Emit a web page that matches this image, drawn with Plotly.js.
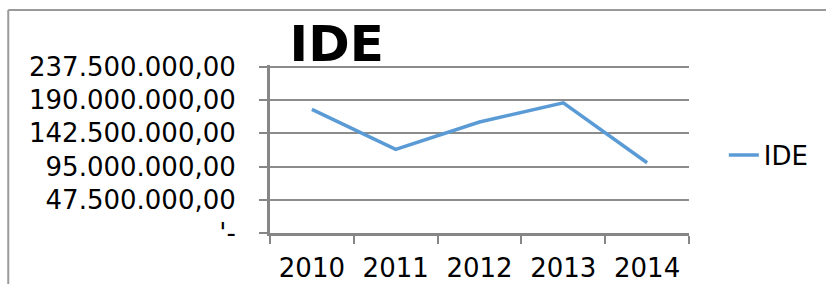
<!DOCTYPE html>
<html>
<head>
<meta charset="utf-8">
<script src="https://cdn.plot.ly/plotly-3.0.1.min.js"></script>
<style>html,body{margin:0;padding:0;background:#fff;}#chart{width:826px;height:284px;}</style>
</head>
<body>
<div id="chart"></div>
<script>
const years = ['2010', '2011', '2012', '2013', '2014'];
const ideValues = [176500000, 119400000, 158500000, 186000000, 100300000];
const yTickVals = [0, 47500000, 95000000, 142500000, 190000000, 237500000];
const yTickText = ["'-", '47.500.000,00', '95.000.000,00', '142.500.000,00', '190.000.000,00', '237.500.000,00'];
const seriesName = 'IDE';
const chartTitle = 'IDE';

const W = 826, H = 284;
const L = 270, R = 691, T = 65, B = 233;
const px = x => (x - L) / (R - L);
const py = y => (B - y) / (B - T);

const font = 'DejaVu Sans, Verdana, sans-serif';

const trace = {
  x: years,
  y: ideValues,
  type: 'scatter',
  mode: 'lines',
  name: seriesName,
  line: {color: '#5B9BD5', width: 3.5},
  hoverinfo: 'skip'
};

const layout = {
  width: W, height: H,
  margin: {l: L, r: W - R, t: T, b: H - B, pad: 0},
  paper_bgcolor: '#ffffff',
  plot_bgcolor: '#ffffff',
  font: {family: font, size: 26, color: '#000000'},
  title: {
    text: '<b>' + chartTitle + '</b>',
    font: {family: font, size: 50, color: '#000000'},
    x: px(337), xref: 'paper', xanchor: 'center',
    y: 1 - 43 / H, yref: 'container', yanchor: 'middle'
  },
  showlegend: true,
  legend: {
    x: px(726), xref: 'paper', xanchor: 'left',
    y: py(155), yref: 'paper', yanchor: 'middle',
    font: {family: font, size: 26, color: '#000000'},
    bgcolor: 'rgba(0,0,0,0)',
    itemwidth: 30
  },
  xaxis: {
    type: 'category',
    tickson: 'boundaries',
    ticks: 'outside', ticklen: 8, tickwidth: 2, tickcolor: '#868686',
    showline: true, linecolor: '#868686', linewidth: 3,
    showgrid: false, zeroline: false,
    tickfont: {family: font, size: 26, color: '#000000'},
    ticklabelstandoff: 10,
    range: [-0.5, 4.5],
    fixedrange: true
  },
  yaxis: {
    range: [0, 240000000],
    tickmode: 'array', tickvals: yTickVals, ticktext: yTickText,
    ticks: 'outside', ticklen: 8, tickwidth: 2, tickcolor: '#868686',
    showline: true, linecolor: '#868686', linewidth: 3,
    showgrid: true, gridcolor: '#8c8c8c', gridwidth: 2,
    zeroline: false,
    tickfont: {family: font, size: 26, color: '#000000'},
    ticklabelstandoff: 18,
    fixedrange: true
  },
  shapes: [
    {type: 'line', xref: 'paper', yref: 'paper', x0: px(7), x1: px(830), y0: py(10), y1: py(10),
     line: {color: '#9a9a9a', width: 2}},
    {type: 'line', xref: 'paper', yref: 'paper', x0: px(7), x1: px(7), y0: py(10), y1: py(290),
     line: {color: '#9a9a9a', width: 2}}
  ]
};

Plotly.newPlot('chart', [trace], layout, {displayModeBar: false, staticPlot: true});
</script>
</body>
</html>
